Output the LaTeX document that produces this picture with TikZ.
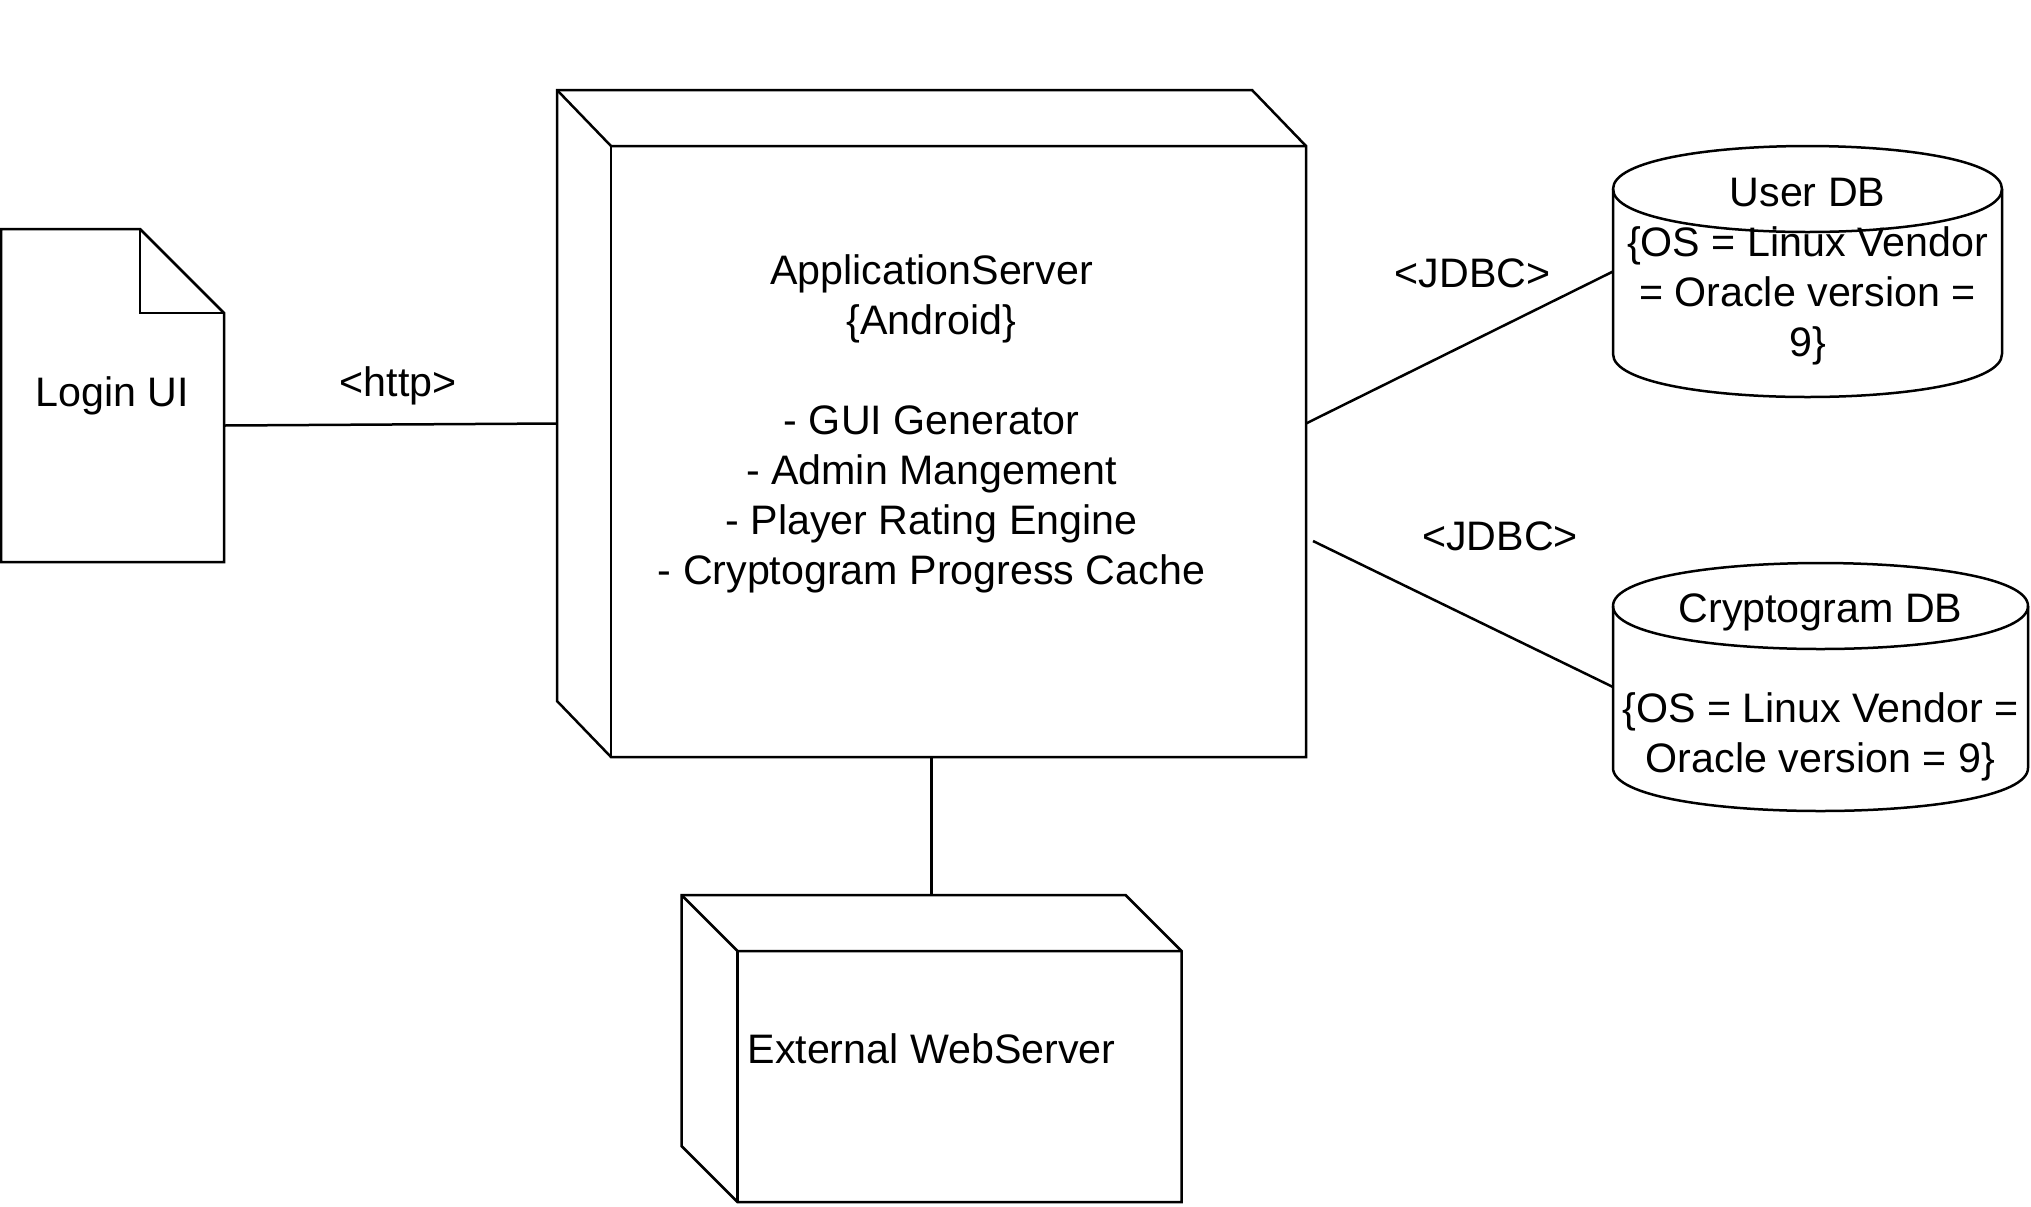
\documentclass[tikz,border=0pt]{standalone}
\usepackage{fontspec}
\setmainfont{Liberation Sans}
\usetikzlibrary{calc}
\newcommand{\diagfont}{\fontsize{20.6}{25}\selectfont}
\tikzset{
  box/.style={inner sep=0pt,outer sep=0pt,align=center,font=\diagfont},
  lbl/.style={inner sep=0pt,font=\diagfont},
}

\begin{document}
\begin{tikzpicture}[x=0.5pt,y=-0.5pt,line width=1.25pt]
\useasboundingbox (0,0) rectangle (2031,1206);

% Login UI: page with folded corner
\node[box,minimum width=111.5pt,minimum height=166.5pt] (login) at (112.5,395.5) {Login UI};
\draw (login.north west) -- ([xshift=-42pt]login.north east) -- ([yshift=-42pt]login.north east)
  -- (login.south east) -- (login.south west) -- cycle;
\draw ([xshift=-42pt]login.north east) -- ([xshift=-42pt,yshift=-42pt]login.north east)
  -- ([yshift=-42pt]login.north east);

% 3D nodes (text centred on the whole box)
\node[box,minimum width=374.5pt,minimum height=333.5pt] (app) at (931.5,423.5) {ApplicationServer\\
\{Android\}\\[25pt]
- GUI Generator\\
- Admin Mangement\\
- Player Rating Engine\\
- Cryptogram Progress Cache};
\node[box,minimum width=250pt,minimum height=153.5pt] (web) at (931.5,1048.5) {External WebServer};
\foreach \n/\d in {app/27pt,web/28pt} {
  \draw (\n.north west) -- ([xshift=-\d]\n.north east) -- ([yshift=-28pt]\n.north east)
    -- (\n.south east) -- ([xshift=\d]\n.south west) -- ([yshift=28pt]\n.south west) -- cycle;
  \draw (\n.north west) -- ([xshift=\d,yshift=-28pt]\n.north west) -- ([yshift=-28pt]\n.north east);
  \draw ([xshift=\d,yshift=-28pt]\n.north west) -- ([xshift=\d]\n.south west);
}

% databases
\node[box,minimum width=194.5pt,minimum height=125.5pt] (userdb) at (1807.5,271.5) {User DB\\
\{OS = Linux Vendor\\
= Oracle version =\\
9\}};
\node[box,minimum width=207.5pt,minimum height=124pt] (cryptodb) at (1820.5,687) {Cryptogram DB\\[25pt]
\{OS = Linux Vendor =\\
Oracle version = 9\}};
\foreach \n in {userdb,cryptodb} {
  \draw ($(\n.north west)+(0,43)$) .. controls ($(\n.north west)+(0,-14.33)$) and ($(\n.north east)+(0,-14.33)$) .. ($(\n.north east)+(0,43)$)
    -- ($(\n.south east)+(0,-43)$) .. controls ($(\n.south east)+(0,14.33)$) and ($(\n.south west)+(0,14.33)$) .. ($(\n.south west)+(0,-43)$) -- cycle;
  \draw ($(\n.north west)+(0,43)$) .. controls ($(\n.north west)+(0,100.33)$) and ($(\n.north east)+(0,100.33)$) .. ($(\n.north east)+(0,43)$);
}

% connections
\draw ([yshift=-15pt]login.east) -- node[lbl,xshift=3.75pt,yshift=19.5pt] (http) {<http>} (app.west);
\draw (app.east) -- node[lbl,xshift=6.5pt,yshift=37pt] (jdbcuser) {<JDBC>} (userdb.west);
\draw ([xshift=3.5pt,yshift=-58.75pt]app.east) -- node[lbl,xshift=18.5pt,yshift=39pt] (jdbccrypto) {<JDBC>} (cryptodb.west);
\draw (app.south) -- (web.north);
\end{tikzpicture}
\end{document}
